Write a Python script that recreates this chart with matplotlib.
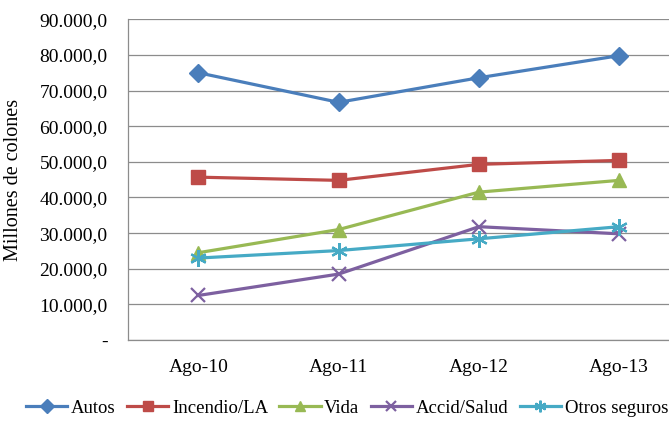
import matplotlib
matplotlib.use("Agg")
import matplotlib.pyplot as plt
from matplotlib.ticker import FuncFormatter

categories = ["Ago-10", "Ago-11", "Ago-12", "Ago-13"]
autos = [75000, 66700, 73600, 79800]
incendio = [45700, 44800, 49300, 50400]
vida = [24500, 31000, 41500, 44800]
accid = [12500, 18500, 31800, 29800]
otros = [23000, 25100, 28400, 31800]
series_names = ["Autos", "Incendio/LA", "Vida", "Accid/Salud", "Otros seguros"]
y_ticks = [0, 10000, 20000, 30000, 40000, 50000, 60000, 70000, 80000, 90000]

plt.rcParams['font.family'] = ['Liberation Serif', 'DejaVu Serif']

fig = plt.figure(figsize=(6.69, 4.21), dpi=100)
ax = fig.add_axes([128.3/669, 1-340/421, 561/669, (340-19.3)/421])

x = list(range(len(categories)))
styles = [
    (autos, "#4A7EBB", dict(marker="D", ms=9.5)),
    (incendio, "#BE4B48", dict(marker="s", ms=9.5)),
    (vida, "#98B954", dict(marker="^", ms=10.5)),
    (accid, "#7D60A0", dict(marker="x", ms=10, mew=1.6)),
    (otros, "#46AAC5", dict(marker=(6, 2, 0), ms=12, mew=1.6)),
]
for (vals, col, mk), name in zip(styles, series_names):
    ax.plot(x, vals, color=col, lw=2.3, label=name, mfc=col, mec=col, **mk)

ax.set_xlim(-0.5, 3.5)
ax.set_ylim(0, 90000)
ax.set_xticks(x)
ax.set_xticklabels(categories)
ax.set_yticks(y_ticks)

def fmt(v, pos):
    if v == 0:
        return "-"
    s = f"{v:,.1f}"
    return s.replace(",", "X").replace(".", ",").replace("X", ".")

ax.yaxis.set_major_formatter(FuncFormatter(fmt))
ax.grid(axis="y", color="#8C8C8C", lw=0.9)
ax.set_axisbelow(True)
for s in ["top", "right"]:
    ax.spines[s].set_visible(False)
for s in ["left", "bottom"]:
    ax.spines[s].set_color("#8C8C8C")
    ax.spines[s].set_linewidth(0.9)
ax.tick_params(axis="both", length=0, labelsize=14, colors="black")
ax.tick_params(axis="y", pad=15)
ax.tick_params(axis="x", pad=14)
ax.set_ylabel("Millones de colones", fontsize=14.5, labelpad=12)

fig.legend(loc="center", bbox_to_anchor=(347/669, 1-408/421), ncol=5, frameon=False,
           fontsize=13.5, handlelength=2.2, handletextpad=0.2, columnspacing=0.6,
           markerscale=0.7)

fig.savefig("out.png", dpi=100)
